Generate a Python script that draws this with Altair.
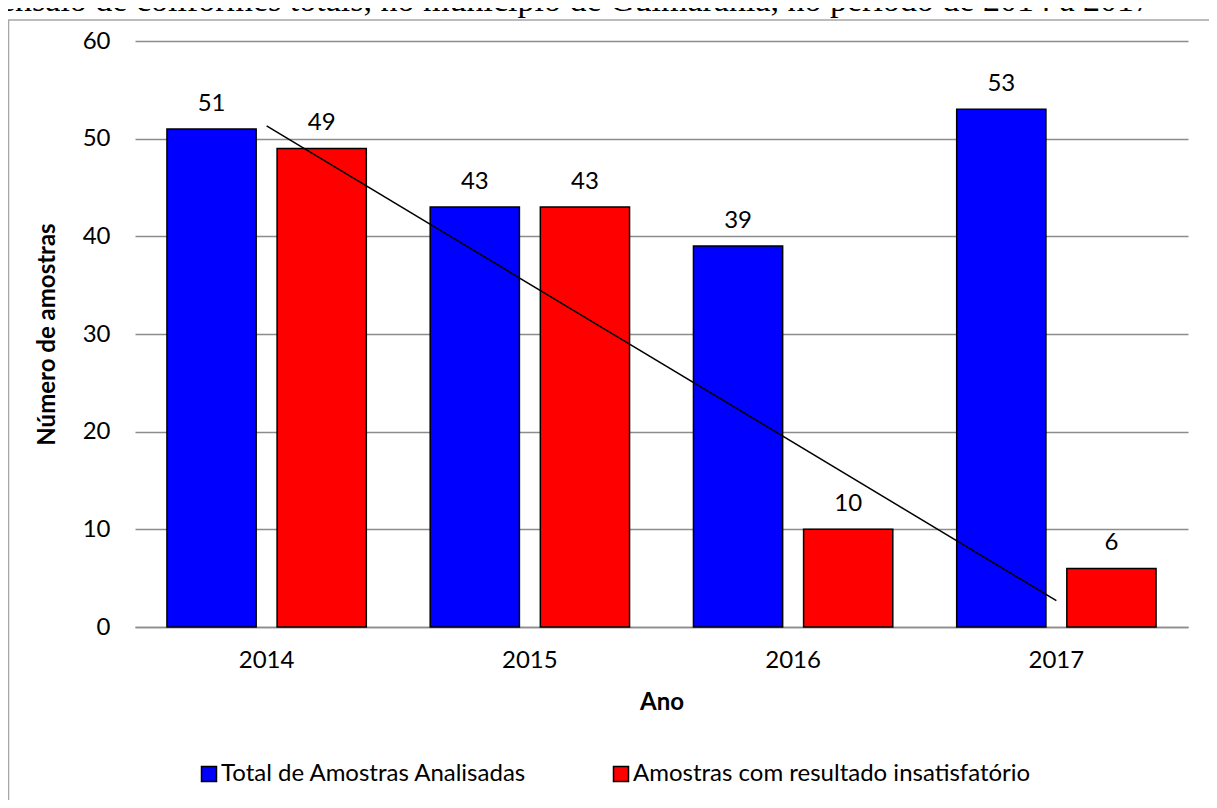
import altair as alt
import pandas as pd
import numpy as np

anos = ["2014", "2015", "2016", "2017"]
total = [51, 43, 39, 53]
insat = [49, 43, 10, 6]
series = ["Total de Amostras Analisadas", "Amostras com resultado insatisfatório"]
cores = ["#0000FF", "#FF0000"]
caption = "ensaio de coliformes totais, no município de Guimarânia, no período de 2014 a 2017"

rows = []
for a, t, i in zip(anos, total, insat):
    rows.append({"Ano": a, "Serie": series[0], "Valor": t})
    rows.append({"Ano": a, "Serie": series[1], "Valor": i})
df = pd.DataFrame(rows)

# linear trendline of the red series
xs = np.arange(1, len(insat) + 1)
m, b = np.polyfit(xs, insat, 1)
trend = pd.DataFrame({"Ano": [anos[0], anos[-1]], "Valor": [m * xs[0] + b, m * xs[-1] + b]})

FONT = "Lato"
FS = 24

x_enc = alt.X("Ano:N", sort=anos, title="Ano",
              scale=alt.Scale(paddingInner=0, paddingOuter=0),
              axis=alt.Axis(labelAngle=0, labelFont=FONT, labelFontSize=FS, labelColor="#000",
                            labelPadding=21, ticks=False, domainColor="#8c8c8c", domainWidth=1.5,
                            titleFont=FONT, titleFontSize=FS, titleFontWeight="bold",
                            titleColor="#000", titleY=75, titleBaseline="middle"))
y_enc = alt.Y("Valor:Q", title="Número de amostras",
              scale=alt.Scale(domain=[0, 60], nice=False),
              axis=alt.Axis(values=[0, 10, 20, 30, 40, 50, 60], labelFont=FONT, labelFontSize=FS,
                            labelColor="#000", labelPadding=25, ticks=False, domain=False,
                            gridColor="#8c8c8c", gridWidth=1.5,
                            titleFont=FONT, titleFontSize=FS, titleFontWeight="bold",
                            titleColor="#000", titleAngle=-90, titleX=-88, titleY=293,
                            titleAlign="center", titleBaseline="middle"))
xoff = alt.XOffset("Serie:N", sort=series,
                   scale=alt.Scale(paddingInner=0.19, paddingOuter=0.29))

bars = alt.Chart(df).mark_bar(stroke="black", strokeWidth=1.5).encode(
    x=x_enc, y=y_enc, xOffset=xoff,
    color=alt.Color("Serie:N", sort=series,
                    scale=alt.Scale(domain=series, range=cores),
                    legend=alt.Legend(title=None, orient="none", direction="horizontal",
                                      legendX=62, legendY=721, symbolType="square",
                                      symbolSize=225, symbolStrokeColor="black",
                                      symbolStrokeWidth=1.5, labelFont=FONT, labelFontSize=FS,
                                      labelColor="#000", columnPadding=82, labelOffset=0,
                                      labelLimit=1000)),
)

labels = alt.Chart(df).mark_text(font=FONT, fontSize=FS, color="#000", dy=-18,
                                 baseline="alphabetic").encode(
    x=alt.X("Ano:N", sort=anos), y="Valor:Q", xOffset=xoff, text="Valor:Q"
)

line = alt.Chart(trend).mark_line(color="black", strokeWidth=1.5).encode(
    x=alt.X("Ano:N", sort=anos), y="Valor:Q"
)

frame = alt.Chart(pd.DataFrame({"k": [0]})).mark_rect(
    filled=False, stroke="#a6a6a6", strokeWidth=1.5
).encode(x=alt.value(-126.5), x2=alt.value(1075), y=alt.value(-21), y2=alt.value(770))

cap = alt.Chart(pd.DataFrame({"t": [caption]})).mark_text(
    font="Liberation Serif", fontSize=34, color="#000", align="left", baseline="alphabetic"
).encode(x=alt.value(-135), y=alt.value(-30), text="t:N")

chart = alt.layer(frame, bars, line, labels, cap).properties(
    width=1053, height=586,
    autosize=alt.AutoSizeParams(type="none"),
    padding={"left": 127, "top": 33, "right": 21, "bottom": 173},
).configure_view(stroke=None)

chart.save("out.html", embed_options={"renderer": "svg", "actions": False})
